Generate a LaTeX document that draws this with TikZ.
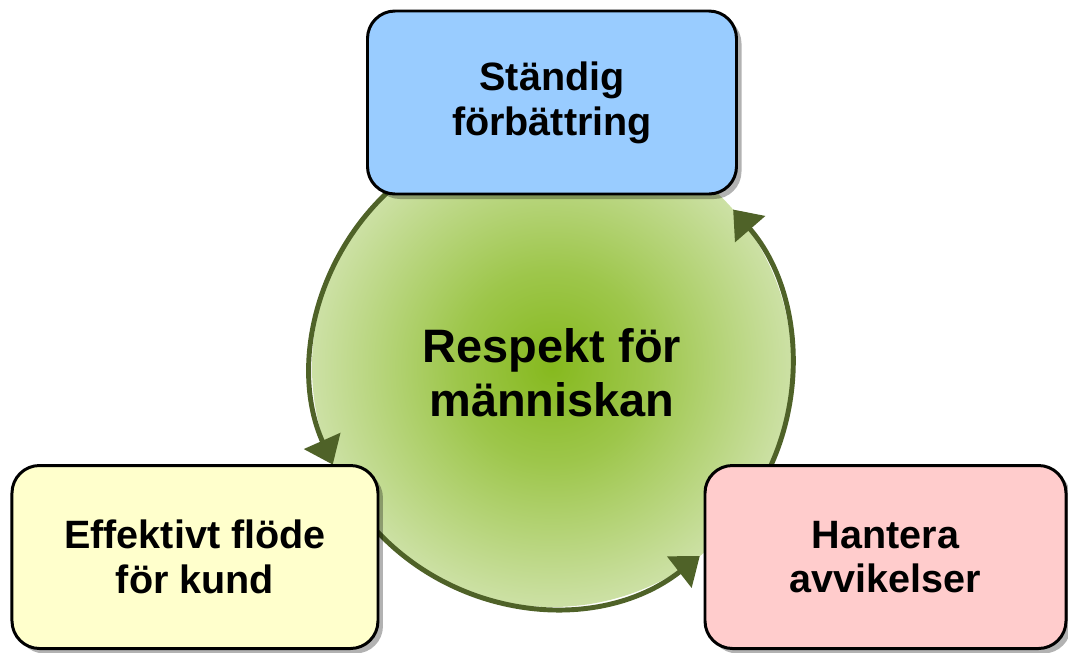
\documentclass[tikz,border=0pt]{standalone}
\usepackage{fontspec}
\setmainfont{Liberation Sans}
\usepackage{tikz}
\usetikzlibrary{arrows.meta, positioning, shadows}
\definecolor{arcgreen}{RGB}{79,98,40}
\definecolor{hubcore}{RGB}{134,185,30}
\definecolor{hubrim}{RGB}{228,238,210}
\definecolor{boxblue}{RGB}{153,204,255}
\definecolor{boxyellow}{RGB}{255,255,204}
\definecolor{boxpink}{RGB}{255,204,204}
\pgfdeclareradialshading{hubglow}{\pgfpoint{0bp}{0bp}}{%
  color(0bp)=(hubcore); color(10bp)=(hubcore!75!hubrim);
  color(25bp)=(hubcore!25!hubrim); color(40bp)=(hubcore!8!hubrim);
  color(50bp)=(hubrim)}
\begin{document}
\begin{tikzpicture}[
  hub/.style={circle, inner sep=0pt, outer sep=0pt, minimum size=9.6cm,
              shading=hubglow},
  leanbox/.style={draw=black, line width=1.7pt, rounded corners=0.55cm,
                  minimum width=7.3cm, minimum height=3.66cm, align=center,
                  font=\fontsize{22.5}{25.5}\selectfont\bfseries, fill=#1,
                  drop shadow={shadow xshift=0.1cm, shadow yshift=-0.1cm,
                               opacity=0.3, fill=black}},
  cyclearrow/.style={draw=arcgreen, line width=2.8pt,
                     -{Triangle[length=0.52cm, width=0.78cm]}},
]
\useasboundingbox (-11.04,-5.7) rectangle (10.32,7.34);
\node[hub] (hub) at (0,0) {};
\node[font=\fontsize{26.7}{30.5}\selectfont\bfseries, align=center]
      (core) at (0,-0.12) {Respekt för\\människan};
\draw[cyclearrow] (hub.130) arc[start angle=130, end angle=204, radius=4.8cm];
\draw[cyclearrow] (hub.220) arc[start angle=220, end angle=308, radius=4.8cm];
\draw[cyclearrow] (hub.330) arc[start angle=330, end angle=401, radius=4.8cm];
\node[leanbox=boxblue, minimum width=7.38cm] (improve) at (0,5.29)
      {Ständig\\förbättring};
\node[leanbox=boxyellow, minimum width=7.32cm] (flow) at (-7.14,-3.8)
      {Effektivt flöde\\för kund};
\node[leanbox=boxpink, minimum width=7.22cm] (deviation) at (6.67,-3.8)
      {Hantera\\avvikelser};
\end{tikzpicture}
\end{document}
